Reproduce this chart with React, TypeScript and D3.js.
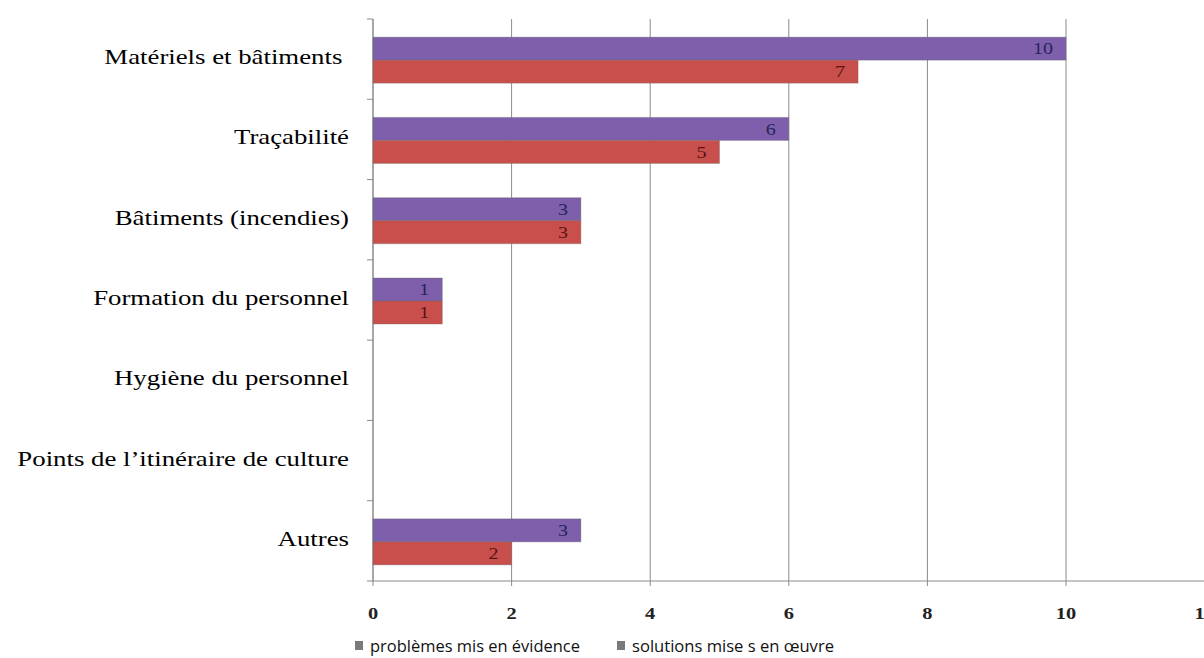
import React from "react";
import * as d3 from "d3";

const categories = [
  "Matériels et bâtiments ",
  "Traçabilité",
  "Bâtiments (incendies)",
  "Formation du personnel",
  "Hygiène du personnel",
  "Points de l’itinéraire de culture",
  "Autres",
];
const problemes = [10, 6, 3, 1, 0, 0, 3];
const solutions = [7, 5, 3, 1, 0, 0, 2];
const seriesNames = ["problèmes mis en évidence", "solutions mise s en œuvre"];
const xTicks = [0, 2, 4, 6, 8, 10, 12];

const W = 1204;
const H = 658;
const left = 373;
const top = 19;
const bottom = 581;

const serif = "'Liberation Serif', 'Times New Roman', serif";
const sans = "'Open Sans', 'Liberation Sans', sans-serif";

// Text drawn with a horizontal stretch, anchored at (x, y)
function Wide(props: {
  x: number;
  y: number;
  sx: number;
  anchor: "start" | "middle" | "end";
  size: number;
  family: string;
  fill: string;
  weight?: string;
  children: React.ReactNode;
}) {
  return (
    <text
      transform={`translate(${props.x},${props.y}) scale(${props.sx},1)`}
      dy="0.35em"
      textAnchor={props.anchor}
      fontFamily={props.family}
      fontSize={props.size}
      fontWeight={props.weight}
      fill={props.fill}
      style={{ whiteSpace: "pre" }}
    >
      {props.children}
    </text>
  );
}

export default function App() {
  const x = d3.scaleLinear().domain([0, 12]).range([left, left + 12 * 69.3]);
  const y = d3.scaleBand<string>().domain(categories).range([top, bottom]);
  const rowH = y.bandwidth();
  const barH = 23;
  const series = [
    { values: problemes, fill: "#7d5fab", label: "#2a2358", offset: -barH },
    { values: solutions, fill: "#c94f4c", label: "#5a1414", offset: 0 },
  ];

  return (
    <svg width={W} height={H} style={{ position: "absolute", left: 0, top: 0, background: "#fff" }}>
      {/* vertical gridlines with small ticks below the axis */}
      {xTicks.map((t) => (
        <line key={"g" + t} x1={x(t)} x2={x(t)} y1={top} y2={bottom + 5} stroke="#8a8a8a" strokeWidth={1} />
      ))}
      {/* category axis with tick marks between rows */}
      <line x1={left} x2={left} y1={top} y2={bottom} stroke="#8a8a8a" />
      {d3.range(categories.length + 1).map((i) => (
        <line key={"yt" + i} x1={left - 6} x2={left} y1={top + i * rowH} y2={top + i * rowH} stroke="#8a8a8a" />
      ))}
      <line x1={left} x2={W} y1={bottom} y2={bottom} stroke="#8a8a8a" />

      {/* bars */}
      {categories.map((c, i) => {
        const cy = (y(c) as number) + rowH / 2 + 1;
        return series.map((s, k) => {
          const v = s.values[i];
          if (v <= 0) return null;
          const by = cy + s.offset;
          return (
            <g key={c + k}>
              <rect x={x(0)} y={by} width={x(v) - x(0)} height={barH} fill={s.fill} stroke="#6b6b6b" strokeOpacity={0.35} />
              <Wide x={x(v) - 13} y={by + barH / 2} sx={1.25} anchor="end" size={16} family={serif} fill={s.label}>
                {v}
              </Wide>
            </g>
          );
        });
      })}

      {/* category labels */}
      {categories.map((c) => (
        <Wide
          key={"l" + c}
          x={349}
          y={(y(c) as number) + rowH / 2 - 2}
          sx={1.34}
          anchor="end"
          size={20}
          family={serif}
          fill="#000"
        >
          {c}
        </Wide>
      ))}

      {/* value axis labels */}
      {xTicks.map((t) => (
        <Wide key={"xl" + t} x={x(t)} y={613} sx={1.2} anchor="middle" size={17} family={serif} weight="bold" fill="#222">
          {t}
        </Wide>
      ))}

      {/* legend */}
      {seriesNames.map((n, i) => {
        const lx = [355, 617][i];
        const len = [210, 202][i];
        return (
          <g key={n}>
            <rect x={lx} y={641} width={8} height={9} fill="#7a7a7a" />
            <text
              x={lx + 15}
              y={646}
              dy="0.35em"
              fontFamily={sans}
              fontSize={16.5}
              fill="#111"
              textLength={len}
              lengthAdjust="spacingAndGlyphs"
            >
              {n}
            </text>
          </g>
        );
      })}
    </svg>
  );
}
